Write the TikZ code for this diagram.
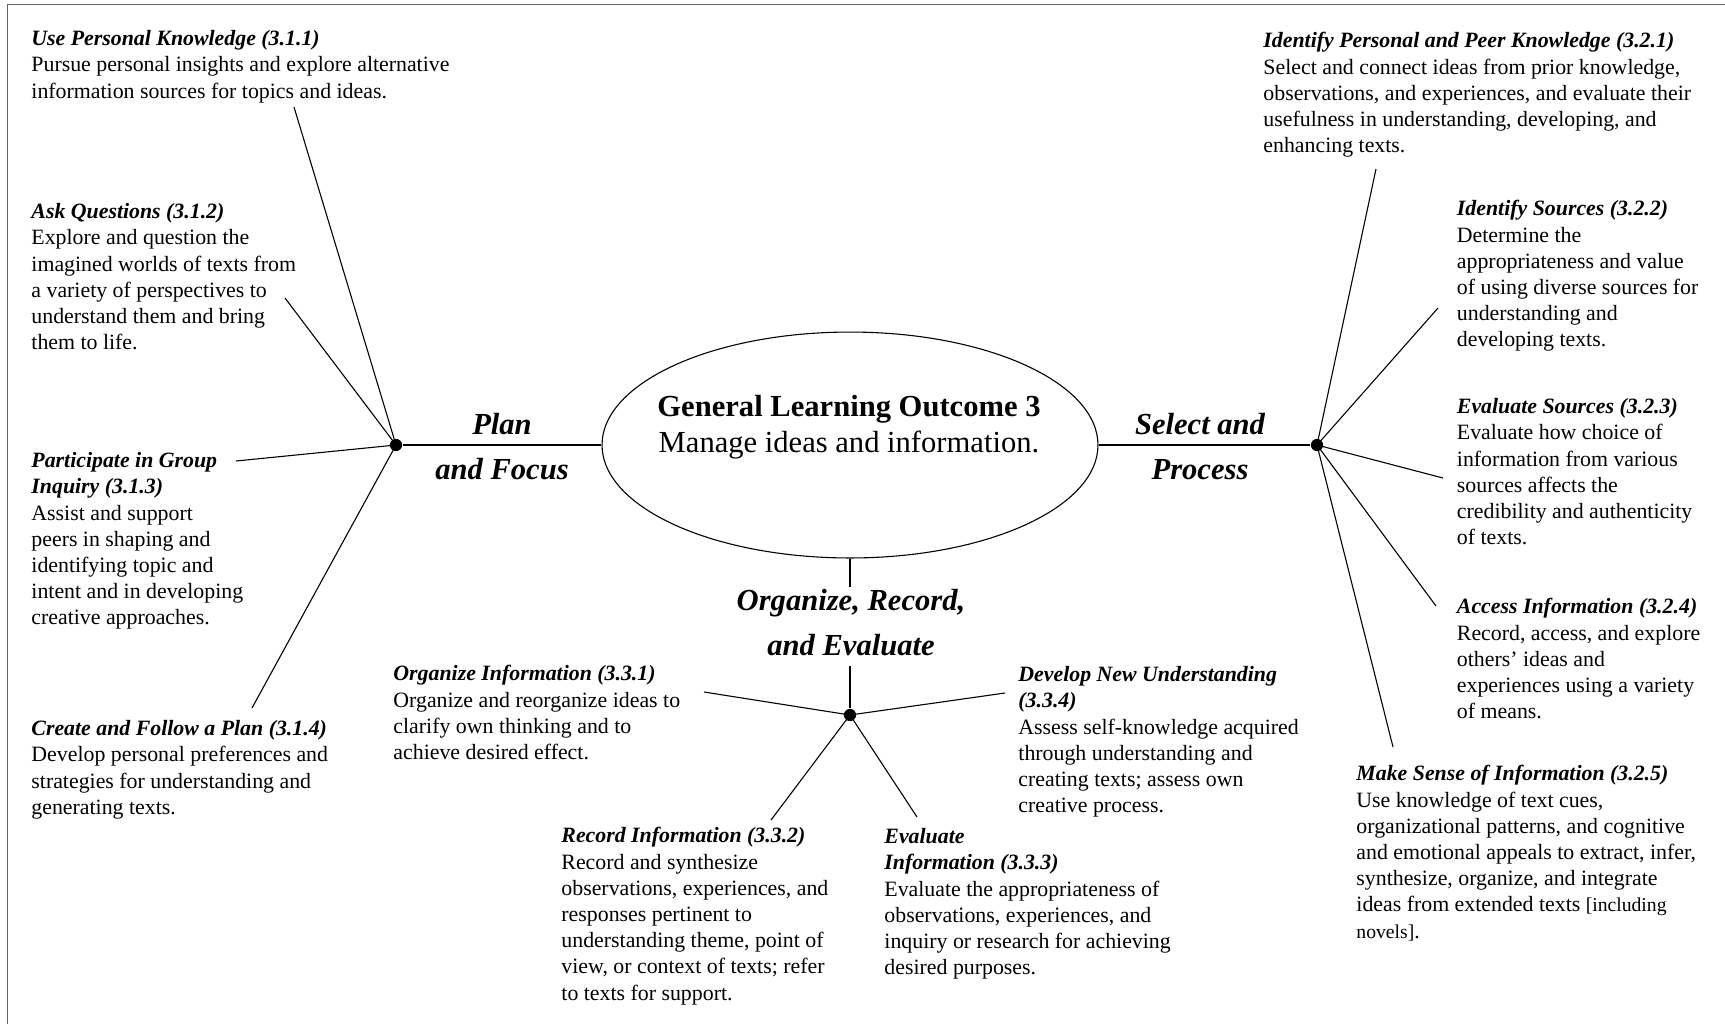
\documentclass[tikz,border=0pt]{standalone}
\usepackage{fontspec}
\setmainfont{Liberation Serif}
\usetikzlibrary{shapes.geometric}

\newcommand{\outhead}[1]{{\bfseries\itshape #1}}

\tikzset{
  outcome/.style={align=left, anchor=north west, inner sep=0pt, font=\fontsize{10}{12}\selectfont},
  branch/.style={align=center, anchor=north, inner sep=0pt, font=\fontsize{14}{20.5}\selectfont\bfseries\itshape},
  spoke/.style={line width=0.5pt},
  hub/.style={circle, fill, inner sep=0pt, minimum size=5.6pt}
}

\begin{document}
\begin{tikzpicture}[x=0.4577pt, y=-0.4577pt]

        \useasboundingbox (0,0) rectangle (1725,1024);

        % Frame (top and left only)
        \draw[black!60, line width=0.8pt] (1725,4.5) -- (7.5,4.5) -- (7.5,1024);

        % Centre
        \node[ellipse, draw, line width=0.5pt, minimum width=227pt, minimum height=103.4pt, inner sep=0pt] (glo) at (850,445) {};
        \node[align=center, anchor=north, inner sep=0pt, font=\fontsize{14}{16.5}\selectfont] (glotext) at (849,395)
            {\textbf{General Learning Outcome 3}\\Manage ideas and information.};

        % Hubs
        \node[hub] (planhub) at (396,445) {};
        \node[hub] (selhub) at (1317,445) {};
        \node[hub] (orghub) at (850,715) {};

        % Branch labels
        \node[branch] (planlbl) at (502,413) {Plan\\and Focus};
        \node[branch] (sellbl) at (1200,413) {Select and\\Process};
        \node[branch] (orglbl) at (851,589) {Organize, Record,\\and Evaluate};

        % Plan and Focus outcomes
        \node[outcome] (useknow) at (31,30) {\outhead{Use Personal Knowledge (3.1.1)}\\
            Pursue personal insights and explore alternative\\
            information sources for topics and ideas.};
        \node[outcome] (askq) at (31,203) {\outhead{Ask Questions (3.1.2)}\\
            Explore and question the\\imagined worlds of texts from\\a variety of perspectives to\\
            understand them and bring\\them to life.};
        \node[outcome] (groupinq) at (31,452) {\outhead{Participate in Group}\\\outhead{Inquiry (3.1.3)}\\
            Assist and support\\peers in shaping and\\identifying topic and\\
            intent and in developing\\creative approaches.};
        \node[outcome] (followplan) at (31,720) {\outhead{Create and Follow a Plan (3.1.4)}\\
            Develop personal preferences and\\strategies for understanding and\\generating texts.};

        % Select and Process outcomes
        \node[outcome] (peerknow) at (1263,32) {\outhead{Identify Personal and Peer Knowledge (3.2.1)}\\
            Select and connect ideas from prior knowledge,\\observations, and experiences, and evaluate their\\
            usefulness in understanding, developing, and\\enhancing texts.};
        \node[outcome] (identsrc) at (1456.5,200) {\outhead{Identify Sources (3.2.2)}\\
            Determine the\\appropriateness and value\\of using diverse sources for\\
            understanding and\\developing texts.};
        \node[outcome] (evalsrc) at (1456.5,398) {\outhead{Evaluate Sources (3.2.3)}\\
            Evaluate how choice of\\information from various\\sources affects the\\
            credibility and authenticity\\of texts.};
        \node[outcome] (accessinfo) at (1456.5,598) {\outhead{Access Information (3.2.4)}\\
            Record, access, and explore\\others’ ideas and\\experiences using a variety\\of means.};
        \node[outcome] (makesense) at (1356,765) {\outhead{Make Sense of Information (3.2.5)}\\
            Use knowledge of text cues,\\organizational patterns, and cognitive\\
            and emotional appeals to extract, infer,\\synthesize, organize, and integrate\\
            ideas from extended texts {\fontsize{9}{12}\selectfont[including}\\
            {\fontsize{9}{12}\selectfont novels]}.};

        % Organize, Record, and Evaluate outcomes
        \node[outcome] (orginfo) at (393,665) {\outhead{Organize Information (3.3.1)}\\
            Organize and reorganize ideas to\\clarify own thinking and to\\achieve desired effect.};
        \node[outcome] (recinfo) at (561,827) {\outhead{Record Information (3.3.2)}\\
            Record and synthesize\\observations, experiences, and\\responses pertinent to\\
            understanding theme, point of\\view, or context of texts; refer\\to texts for support.};
        \node[outcome] (evalinfo) at (884,828) {\outhead{Evaluate}\\\outhead{Information (3.3.3)}\\
            Evaluate the appropriateness of\\observations, experiences, and\\
            inquiry or research for achieving\\desired purposes.};
        \node[outcome] (newunder) at (1018,666) {\outhead{Develop New Understanding}\\\outhead{(3.3.4)}\\
            Assess self-knowledge acquired\\through understanding and\\
            creating texts; assess own\\creative process.};

        % Spoke ends
        \coordinate (useknowend) at (294,107);
        \coordinate (askqend) at (285,298);
        \coordinate (groupinqend) at (236,461);
        \coordinate (followplanend) at (252,708);
        \coordinate (peerknowend) at (1376,169);
        \coordinate (identsrcend) at (1438,308);
        \coordinate (evalsrcend) at (1443,478);
        \coordinate (accessinfoend) at (1436,606);
        \coordinate (makesenseend) at (1393,747);
        \coordinate (orginfoend) at (704,692);
        \coordinate (newunderend) at (1005,693);
        \coordinate (recinfoend) at (771,820);
        \coordinate (evalinfoend) at (917,817);
        \coordinate (gloout) at (850,587);
        \coordinate (orgin) at (850,666);

        % Centre to hubs
        \draw[spoke] (glo.west) -- (planhub);
        \draw[spoke] (glo.east) -- (selhub);
        \draw[spoke] (glo.south) -- (gloout);
        \draw[spoke] (orgin) -- (orghub);

        % Spokes
        \foreach \e in {useknowend, askqend, groupinqend, followplanend}
            \draw[spoke] (planhub.center) -- (\e);
        \foreach \e in {peerknowend, identsrcend, evalsrcend, accessinfoend, makesenseend}
            \draw[spoke] (selhub.center) -- (\e);
        \foreach \e in {orginfoend, newunderend, recinfoend, evalinfoend}
            \draw[spoke] (orghub.center) -- (\e);

    \end{tikzpicture}
\end{document}
